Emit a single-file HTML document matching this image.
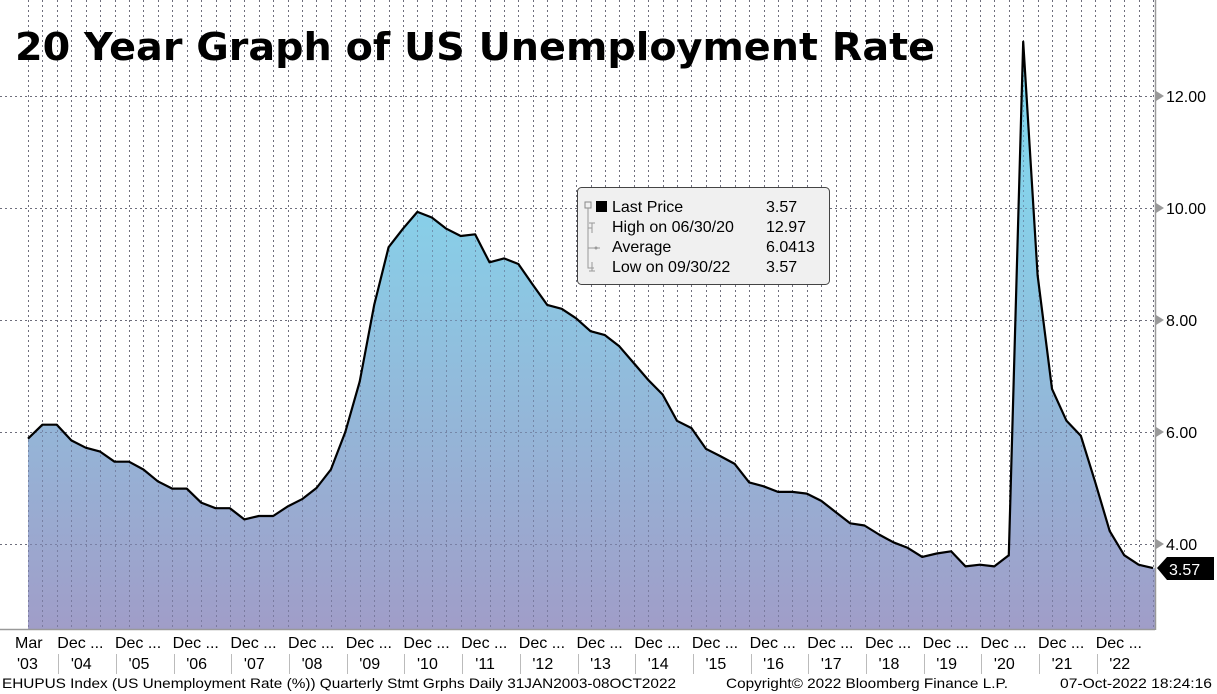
<!DOCTYPE html>
<html><head><meta charset="utf-8"><style>
html,body{margin:0;padding:0;background:#fff;width:1217px;height:694px;overflow:hidden}
svg{display:block;font-family:"Liberation Sans",Tahoma,sans-serif}
</style></head><body>
<svg id="s" width="1217" height="694" viewBox="0 0 1217 694" xmlns="http://www.w3.org/2000/svg">
<defs>
<linearGradient id="g" x1="0" y1="40" x2="0" y2="630" gradientUnits="userSpaceOnUse">
<stop offset="0" stop-color="#7cdcf2"/><stop offset="0.3" stop-color="#88cfe8"/><stop offset="1" stop-color="#a09dc8"/>
</linearGradient>
</defs>
<rect x="0" y="0" width="1217" height="694" fill="#fff"/>
<g id="grid"></g>
<path id="area" fill="url(#g)"/>
<g id="vgrid2"></g>
<path id="line" fill="none" stroke="#000" stroke-width="2.2" stroke-linejoin="round"/>
<line x1="1155.5" y1="0" x2="1155.5" y2="630" stroke="#999" stroke-width="1.5"/>
<line x1="0" y1="629.5" x2="1155" y2="629.5" stroke="#999" stroke-width="1.5"/>
<g font-size="16" fill="#000">
<text x="1166" y="102">12.00</text>
<text x="1166" y="214">10.00</text>
<text x="1166" y="326">8.00</text>
<text x="1166" y="438">6.00</text>
<text x="1166" y="550">4.00</text>
</g>
<g fill="#999">
<polygon points="1156,91 1164,96 1156,101"/><polygon points="1156,203 1164,208 1156,213"/><polygon points="1156,315 1164,320 1156,325"/><polygon points="1156,427 1164,432 1156,437"/><polygon points="1156,539 1164,544 1156,549"/>
</g>
<polygon points="1157,568 1167,557 1214,557 1214,580 1167,580" fill="#000"/>
<text x="1169" y="575" font-size="16" fill="#fff">3.57</text>
<text x="15" y="60" font-family="DejaVu Sans,sans-serif" font-weight="bold" font-size="38" textLength="920" lengthAdjust="spacingAndGlyphs">20 Year Graph of US Unemployment Rate</text>
<rect x="577.5" y="187.5" width="252" height="97" rx="4" fill="#f0f0f0" stroke="#444"/>
<g font-size="16" fill="#000">
<text x="612" y="212">Last Price</text><text x="766" y="212">3.57</text>
<text x="612" y="232">High on 06/30/20</text><text x="766" y="232">12.97</text>
<text x="612" y="252">Average</text><text x="766" y="252">6.0413</text>
<text x="612" y="272">Low on 09/30/22</text><text x="766" y="272">3.57</text>
</g>
<rect x="596" y="201" width="11" height="11" fill="#000"/>
<rect x="585" y="202" width="6" height="6" fill="none" stroke="#888"/>
<path d="M588,208 V268 H594 M588,228 H592 M588,248 H600 M589,223 h6 M592,223 v10 M592,262 v9 M589,271 h6" stroke="#999" fill="none"/>
<circle cx="596" cy="248" r="1.5" fill="#999"/>
<g id="xl" font-size="16" fill="#000"></g>
<g font-size="14" fill="#000">
<text x="2" y="688" textLength="674" lengthAdjust="spacingAndGlyphs">EHUPUS Index (US Unemployment Rate (%)) Quarterly Stmt Grphs  Daily 31JAN2003-08OCT2022</text>
<text x="726" y="688" textLength="282" lengthAdjust="spacingAndGlyphs">Copyright© 2022 Bloomberg Finance L.P.</text>
<text x="1060" y="688" textLength="152" lengthAdjust="spacingAndGlyphs">07-Oct-2022 18:24:16</text>
</g>
</svg>
<script>
var v=[5.88,6.13,6.13,5.85,5.72,5.65,5.47,5.47,5.33,5.12,4.99,4.99,4.74,4.64,4.64,4.44,4.5,4.5,4.67,4.8,5.0,5.33,6.0,6.9,8.27,9.3,9.63,9.93,9.83,9.63,9.5,9.53,9.03,9.1,9.0,8.63,8.27,8.2,8.03,7.8,7.73,7.53,7.23,6.93,6.67,6.2,6.07,5.7,5.57,5.43,5.1,5.03,4.93,4.93,4.9,4.77,4.57,4.37,4.33,4.17,4.03,3.93,3.77,3.83,3.87,3.6,3.63,3.6,3.8,12.97,8.8,6.77,6.2,5.93,5.1,4.23,3.8,3.63,3.57];
var x0=28,dx=(1153-28)/78;
function Y(a){return 96+(12-a)*56}
var pts=[];
for(var i=0;i<v.length;i++){pts.push((x0+i*dx).toFixed(1)+','+Y(v[i]).toFixed(1));}
document.getElementById('line').setAttribute('d','M'+pts.join(' L'));
document.getElementById('area').setAttribute('d','M'+x0+',629 L'+pts.join(' L')+' L1155,'+Y(3.57)+' L1155,629 Z');
var g='';
[96,208,320,432,544].forEach(function(y){g+='<line x1="0" y1="'+(y+.5)+'" x2="1155" y2="'+(y+.5)+'" stroke="#888" stroke-dasharray="2,3"/>';});
for(var i=0;i<v.length;i++){var x=Math.round(x0+i*dx)+.5;g+='<line x1="'+x+'" y1="0" x2="'+x+'" y2="629" stroke="#888" stroke-dasharray="2,3"/>';}
document.getElementById('grid').innerHTML=g;
document.getElementById('vgrid2').innerHTML=g.replace(/#888/g,'rgba(80,80,110,0.45)');
var xl='<text x="15" y="648">Mar</text><text x="17" y="669">\'03</text>';
var yrs=['04','05','06','07','08','09','10','11','12','13','14','15','16','17','18','19','20','21','22'];
for(var k=0;k<19;k++){var xc=x0+(3+4*k)*dx;
xl+='<text x="'+(xc-14)+'" y="648">Dec ...</text><text x="'+(xc+10)+'" y="669" text-anchor="middle">\''+yrs[k]+'</text>';
xl+='<line x1="'+(Math.round(xc-13)+.5)+'" y1="654" x2="'+(Math.round(xc-13)+.5)+'" y2="674" stroke="#bbb"/>';}
document.getElementById('xl').innerHTML=xl;
</script>
</body></html>
